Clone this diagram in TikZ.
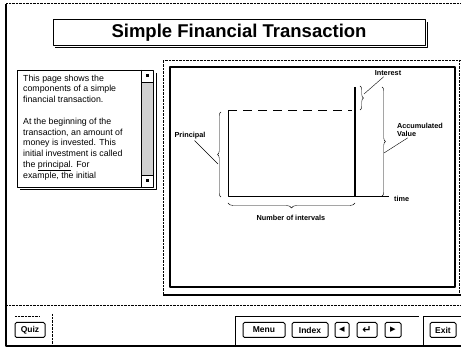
\documentclass[tikz,border=0pt]{standalone}
\usepackage{fontspec}
\setmainfont{Liberation Sans}
\newfontfamily\symfont{DejaVu Sans}
\usetikzlibrary{decorations.pathreplacing}
\begin{document}
\begin{tikzpicture}[x=1pt,y=-1pt,line join=round,
	btn/.style={draw,line width=1pt,rounded corners=1.5pt,font=\fontsize{8.5}{9}\selectfont\bfseries,minimum height=15pt,inner sep=1pt},
	brc/.style={decorate,decoration={brace,amplitude=3.5pt}}]
	\newcommand{\lblfont}{\fontsize{7.3}{8}\selectfont\bfseries}
	\newcommand{\glyph}[1]{{\symfont\fontsize{11}{11}\selectfont #1}}
	\useasboundingbox (0,0) rectangle (461,352);
	\draw[line width=1.5pt] (6,4) -- (6,346) -- (461,346);
	\draw[densely dotted] (6,3) -- (461,3);
	\draw[line width=1pt] (53,20) rectangle (425,46);
	\draw[line width=1pt] (427,22) -- (427,48) -- (55,48);
	\node (title) at (239,33) {\fontsize{18.5}{20}\selectfont\bfseries Simple Financial Transaction};
	\draw[line width=.8pt] (17,70) rectangle (153,187);
	\draw[line width=1pt] (156,73) -- (156,190) -- (20,190);
	\fill[black!18] (141,82) rectangle (153,175);
	\draw[line width=.8pt] (141,70) -- (141,187);
	\draw (141,82) -- (153,82);
	\draw (141,175) -- (153,175);
	\fill (145.5,74.5) rectangle (148.5,77.5);
	\fill (145.5,179.5) rectangle (148.5,182.5);
	\node[anchor=north west,inner sep=0,align=left,font=\fontsize{8.8}{10.8}\selectfont] (info) at (23,74.5) {This page shows the\\
		components of a simple\\
		financial transaction.\\[10.8pt]
		At the beginning of the\\
		transaction, an amount of\\
		money is invested.  This\\
		initial investment is called\\
		the \underline{principal}.  For\\
		example, the initial};
	\draw[densely dotted] (163,295) -- (163,60) -- (461,60);
	\draw[densely dotted] (459,60) -- (459,295);
	\draw[line width=1.5pt] (163,295) -- (461,295);
	\draw[line width=1.2pt] (170,67) rectangle (455,287);
	\coordinate (ptop) at (228,111);
	\coordinate (orig) at (228,197);
	\coordinate (atop) at (355,87);
	\coordinate (abot) at (355,197);
	\coordinate (dend) at (352,111);
	\coordinate (tend) at (389,197);
	\draw[line width=1pt] (ptop) -- (orig) -- (abot);
	\draw[line width=1.3pt] (atop) -- (abot);
	\draw[line width=1pt] (abot) -- (tend);
	\draw[line width=1pt,dash pattern=on 9pt off 6pt] (ptop) -- (dend);
	\draw[brc] (221,197) -- (221,112);
	\draw[brc] (360,86) -- (360,110);
	\draw[brc] (382,87) -- (382,196);
	\draw[brc,decoration={amplitude=5pt}] (355,203) -- (228,203);
	\coordinate (pmark) at (218,164);
	\coordinate (imark) at (364,94);
	\coordinate (amark) at (384,153);
	\begin{scope}
		\tikzstyle{every node}=[font=\lblfont,inner sep=1pt]
		\node (principal) at (190,136) {Principal};
		\node (interest) at (388,73) {Interest};
		\node[align=left] (accum) at (420,130) {Accumulated\\Value};
		\node (intervals) at (291,218) {Number of intervals};
		\node[anchor=west] (time) at (393,199) {time};
		\draw (principal) -- (pmark);
		\draw (interest) -- (imark);
		\draw (accum) -- (amark);
	\end{scope}
	\draw[densely dotted] (6,305) -- (461,305);
	\draw[densely dotted] (15,316) -- (40,316);
	\draw[densely dotted] (52,314) -- (52,345);
	\draw[line width=.8pt] (235,346) -- (235,316) -- (419,316);
	\draw[line width=.8pt] (423,346) -- (423,316) -- (461,316);
	\node[btn,minimum width=30pt] (quiz) at (30,330) {Quiz};
	\node[btn,minimum width=42pt] (menu) at (264,330) {Menu};
	\node[btn,minimum width=36pt] (index) at (310,330) {Index};
	\node[btn,minimum width=14pt] (prev) at (342,330) {\glyph{◂}};
	\node[btn,minimum width=20pt] (back) at (367,330) {\glyph{↵}};
	\node[btn,minimum width=16pt] (next) at (393,330) {\glyph{▸}};
	\node[btn,minimum width=26pt] (exit) at (443,330) {Exit};
\end{tikzpicture}
\end{document}
